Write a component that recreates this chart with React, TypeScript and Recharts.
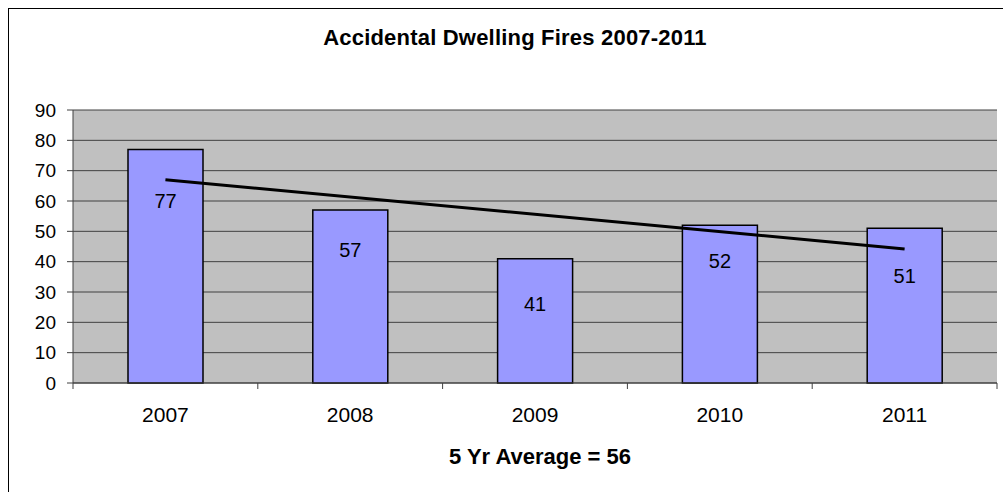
import React from "react";
import { ComposedChart, Bar, Line, XAxis, YAxis, CartesianGrid, LabelList } from "recharts";

const years = ["2007", "2008", "2009", "2010", "2011"];
const fires = [77, 57, 41, 52, 51];
// linear trend endpoints, joined across the gaps
const trend = [67.0, null, null, null, 44.2];
const yTicks = [0, 10, 20, 30, 40, 50, 60, 70, 80, 90];

const data = years.map((year, i) => ({ year, fires: fires[i], trend: trend[i] }));

const W = 1003;
const H = 492;
const margin = { top: 110, right: 6, bottom: 69, left: 13 };
const Y_AXIS_W = 60;
const PLOT_W = W - margin.left - margin.right - Y_AXIS_W;
const BAND = PLOT_W / years.length;
const FONT = "'Liberation Sans', Arial, sans-serif";

// how far below each bar top its value label sits (label centre, px)
const labelDrop = [52, 40, 45, 36, 48];

function YearTick(props: any) {
  const { x, y, payload, index } = props;
  const top = y - 8;
  return (
    <g>
      <line x1={x - BAND / 2} x2={x - BAND / 2} y1={top} y2={top + 6} stroke="#404040" />
      {index === years.length - 1 && (
        <line x1={x + BAND / 2} x2={x + BAND / 2} y1={top} y2={top + 6} stroke="#404040" />
      )}
      <text x={x} y={y + 31} textAnchor="middle" fontSize={21} fontFamily={FONT} fill="#000">
        {payload.value}
      </text>
    </g>
  );
}

function ValueLabel(props: any) {
  const { x, y, width, value, index } = props;
  return (
    <text x={x + width / 2} y={y + labelDrop[index] + 7} textAnchor="middle" fontSize={20} fontFamily={FONT} fill="#000">
      {value}
    </text>
  );
}

export default function App() {
  return (
    <div style={{ position: "absolute", left: 0, top: 0, width: W, height: H, overflow: "hidden", background: "#fff", fontFamily: FONT }}>
      <div style={{ position: "absolute", left: 8, top: 8, width: W, height: H, borderLeft: "1px solid #000", borderTop: "1px solid #000" }} />
      <div style={{ position: "absolute", left: 0, width: 1030, top: 24, textAlign: "center", fontSize: 22, fontWeight: "bold", lineHeight: "28px", letterSpacing: "0.2px" }}>
        Accidental Dwelling Fires 2007-2011
      </div>
      <div style={{ position: "absolute", left: 0, width: 1080, top: 443, textAlign: "center", fontSize: 22, fontWeight: "bold", lineHeight: "28px" }}>
        5 Yr Average = 56
      </div>
      <div style={{ position: "absolute", left: 0, top: 0 }}>
        <ComposedChart width={W} height={H} data={data} margin={margin}>
          <CartesianGrid yAxisId="l" vertical={false} fill="#C0C0C0" stroke="#404040" strokeWidth={1} />
          <XAxis
            dataKey="year"
            height={40}
            axisLine={{ stroke: "#404040" }}
            tickLine={false}
            tick={<YearTick />}
            interval={0}
          />
          <YAxis
            yAxisId="l"
            width={Y_AXIS_W}
            domain={[0, 90]}
            ticks={yTicks}
            interval={0}
            axisLine={{ stroke: "#404040" }}
            tickLine={{ stroke: "#404040" }}
            tickSize={6}
            tickMargin={11}
            tick={{ fill: "#000", fontSize: 19, fontFamily: FONT }}
          />
          <YAxis
            yAxisId="r"
            orientation="right"
            width={0}
            domain={[0, 90]}
            tick={false}
            tickLine={false}
            axisLine={{ stroke: "#808080" }}
          />
          <Bar yAxisId="l" dataKey="fires" fill="#9999FF" stroke="#000" strokeWidth={1.5} barSize={75} isAnimationActive={false}>
            <LabelList dataKey="fires" content={<ValueLabel />} />
          </Bar>
          <Line
            yAxisId="l"
            dataKey="trend"
            type="linear"
            stroke="#000"
            strokeWidth={3}
            dot={false}
            connectNulls
            isAnimationActive={false}
          />
        </ComposedChart>
      </div>
    </div>
  );
}
